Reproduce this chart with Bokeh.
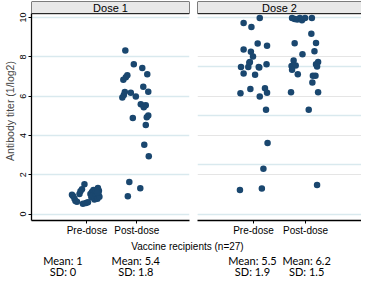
from bokeh.plotting import figure
from bokeh.layouts import column, row
from bokeh.models import Range1d, FixedTicker, BoxAnnotation, Label, Grid
from bokeh.core.properties import value
from bokeh.embed import file_html
from bokeh.resources import INLINE

# ---------------- data ----------------
panels = ["Dose 1", "Dose 2"]
categories = ["Pre-dose", "Post-dose"]
y_ticks_dose1 = [0, 2, 4, 6, 8, 10]
y_grid_dose2 = [0, 2.5, 5, 7.5, 10]
mean_labels = ["Mean: 1", "Mean: 5.4", "Mean: 5.5", "Mean: 6.2"]
sd_labels = ["SD: 0", "SD: 1.8", "SD: 1.9", "SD: 1.5"]
x_title = "Vaccine recipients (n=27)"
y_title = "Antibody titer (1/log2)"

# jittered x positions (category 1 = Pre-dose, 2 = Post-dose) and titers
d1_pre_x = [0.70, 0.72, 0.75, 0.77, 0.80, 0.85, 0.87, 0.90, 0.95, 0.92, 0.98, 1.02, 1.07, 1.09,
            1.10, 1.12, 1.13, 1.15, 1.17, 1.18, 1.19, 1.21, 1.22, 1.23, 1.24, 1.25, 1.21]
d1_pre_y = [0.98, 0.92, 0.78, 0.66, 0.62, 1.02, 1.16, 1.26, 1.52, 0.52, 0.56, 0.60, 1.02, 0.86,
            1.12, 0.95, 1.22, 0.74, 1.05, 1.20, 0.90, 0.78, 1.32, 1.02, 1.18, 0.88, 1.10]

d1_post_x = [1.77, 1.94, 2.11, 2.21, 1.81, 1.78, 1.73, 2.13, 2.23, 1.76, 1.88, 1.74, 1.71, 1.98,
             2.08, 2.14, 2.18, 2.14, 1.92, 2.23, 2.20, 2.18, 2.15, 2.24, 1.85, 2.07, 1.82]
d1_post_y = [8.32, 7.63, 7.43, 7.12, 7.07, 6.96, 6.84, 6.48, 6.23, 6.21, 6.18, 6.06, 5.93, 5.98,
             5.59, 5.51, 5.54, 5.43, 4.89, 5.01, 4.93, 4.53, 3.53, 2.94, 1.63, 1.31, 0.91]

d2_pre_x = [1.12, 0.81, 0.96, 1.08, 1.26, 0.81, 0.95, 0.99, 0.93, 0.76, 0.90, 1.10, 1.25, 0.81,
            1.03, 0.75, 0.94, 1.22, 1.26, 1.12, 1.24, 1.27, 1.19, 0.74, 1.16, 0.92, 1.11]
d2_pre_y = [9.98, 9.73, 9.52, 8.68, 8.57, 8.37, 8.26, 8.02, 7.74, 7.48, 7.48, 7.49, 7.63, 7.15,
            7.09, 6.15, 6.36, 6.40, 6.18, 5.98, 5.31, 3.62, 2.31, 1.22, 1.30, 7.70, 7.46]

d2_post_x = [1.74, 1.79, 1.84, 1.89, 1.93, 1.99, 2.12, 2.11, 1.79, 2.20, 2.17, 1.94, 1.77, 2.24,
             2.20, 1.73, 1.81, 1.74, 2.22, 1.85, 2.14, 2.19, 2.13, 1.72, 2.24, 2.06, 2.22]
d2_post_y = [9.98, 9.93, 9.90, 9.98, 9.87, 9.98, 9.98, 9.18, 8.70, 8.71, 8.29, 8.13, 7.81, 7.74,
             7.62, 7.54, 7.56, 7.35, 7.51, 7.12, 7.04, 7.04, 6.70, 6.20, 6.20, 5.31, 1.48]

# ---------------- style ----------------
NAVY = "#1a476f"
GRID = "#d9e9ee"
STRIP = "#e8e8e8"
FONT = "Liberation Sans"
YR = (-0.33, 10.82)
STRIP_BOTTOM = 10.2
X1 = (-0.112, 3.057)
X2 = (-0.075, 3.073)

W1, L1, R1 = 192, 28, 3
W2, L2, R2 = 169, 5, 0
H, TOP, BOT = 238, 1, 16


def style_xaxis(p):
    ax = p.xaxis[0]
    ax.ticker = FixedTicker(ticks=[1, 2])
    ax.major_label_overrides = {1: categories[0], 2: categories[1]}
    ax.major_label_text_font = FONT
    ax.major_label_text_font_size = "10px"
    ax.major_label_text_color = "black"
    ax.major_label_standoff = 1
    ax.axis_line_color = "black"
    ax.axis_line_width = 1.3
    ax.major_tick_line_color = "black"
    ax.major_tick_out = 3
    ax.major_tick_in = 0
    ax.minor_tick_line_color = None


def add_strip(p, title, xr):
    p.add_layout(BoxAnnotation(bottom=STRIP_BOTTOM, fill_color=STRIP, fill_alpha=1.0,
                               line_color="black", line_width=1, line_alpha=1.0))
    p.add_layout(Label(x=(xr[0] + xr[1]) / 2, y=(STRIP_BOTTOM + YR[1]) / 2, text=title,
                       text_align="center", text_baseline="middle", text_font=FONT,
                       text_font_size="11px", text_color="black"))


f1 = figure(width=W1, height=H, x_range=Range1d(*X1), y_range=Range1d(*YR),
            output_backend="svg", toolbar_location=None,
            min_border_left=L1, min_border_right=R1, min_border_top=TOP, min_border_bottom=BOT)
f1.outline_line_color = None
f1.xgrid.visible = False
f1.ygrid.ticker = FixedTicker(ticks=y_ticks_dose1)
f1.ygrid.grid_line_color = GRID
f1.ygrid.grid_line_width = 1.5
ya = f1.yaxis[0]
ya.ticker = FixedTicker(ticks=y_ticks_dose1)
ya.bounds = (YR[0], STRIP_BOTTOM)
ya.major_label_orientation = "vertical"
ya.major_label_text_font = FONT
ya.major_label_text_font_size = "9px"
ya.major_label_text_color = "black"
ya.major_label_standoff = 2
ya.axis_label = y_title
ya.axis_label_text_font = FONT
ya.axis_label_text_font_size = "10.5px"
ya.axis_label_text_font_style = "normal"
ya.axis_label_standoff = 2
ya.axis_line_color = "black"
ya.axis_line_width = 1.3
ya.major_tick_out = 3
ya.major_tick_in = 0
ya.minor_tick_line_color = None
style_xaxis(f1)
f1.scatter(d1_pre_x, d1_pre_y, size=6.5, color=NAVY, line_color=None)
f1.scatter(d1_post_x, d1_post_y, size=6.5, color=NAVY, line_color=None)
add_strip(f1, panels[0], X1)

f2 = figure(width=W2, height=H, x_range=Range1d(*X2), y_range=Range1d(*YR),
            output_backend="svg", toolbar_location=None, y_axis_location=None,
            min_border_left=L2, min_border_right=R2, min_border_top=TOP, min_border_bottom=BOT)
f2.outline_line_color = None
f2.xgrid.visible = False
f2.add_layout(Grid(dimension=1, ticker=FixedTicker(ticks=y_grid_dose2),
                   grid_line_color=GRID, grid_line_width=1.5))
style_xaxis(f2)
f2.scatter(d2_pre_x, d2_pre_y, size=6.5, color=NAVY, line_color=None)
f2.scatter(d2_post_x, d2_post_y, size=6.5, color=NAVY, line_color=None)
add_strip(f2, panels[1], X2)

# ---------------- bottom text strip ----------------
WB, HB = W1 + W2, 40
fw1 = W1 - L1 - R1
fw2 = W2 - L2 - R2


def px1(v):
    return L1 + (v - X1[0]) / (X1[1] - X1[0]) * fw1


def px2(v):
    return W1 + L2 + (v - X2[0]) / (X2[1] - X2[0]) * fw2


label_x = [px1(0.566), px1(2), px2(0.98), px2(2.02)]

b = figure(width=WB, height=HB, x_range=Range1d(0, WB), y_range=Range1d(HB, 0),
           output_backend="svg", toolbar_location=None, x_axis_location=None,
           y_axis_location=None, min_border_left=0, min_border_right=0,
           min_border_top=0, min_border_bottom=0)
b.outline_line_color = None
b.grid.visible = False
b.text(x=[187], y=[8], text=[x_title], text_align="center", text_baseline="middle",
       text_font=value(FONT), text_font_size="10px", text_color="black")
b.text(x=label_x, y=[21.5] * 4, text=mean_labels, text_align="center", text_baseline="middle",
       text_font=value("Lato"), text_font_size="11px", text_color="black")
b.text(x=label_x, y=[33] * 4, text=sd_labels, text_align="center", text_baseline="middle",
       text_font=value("Lato"), text_font_size="11px", text_color="black")

layout = column(row(f1, f2), b)
open("out.html", "w").write(file_html(layout, INLINE))
